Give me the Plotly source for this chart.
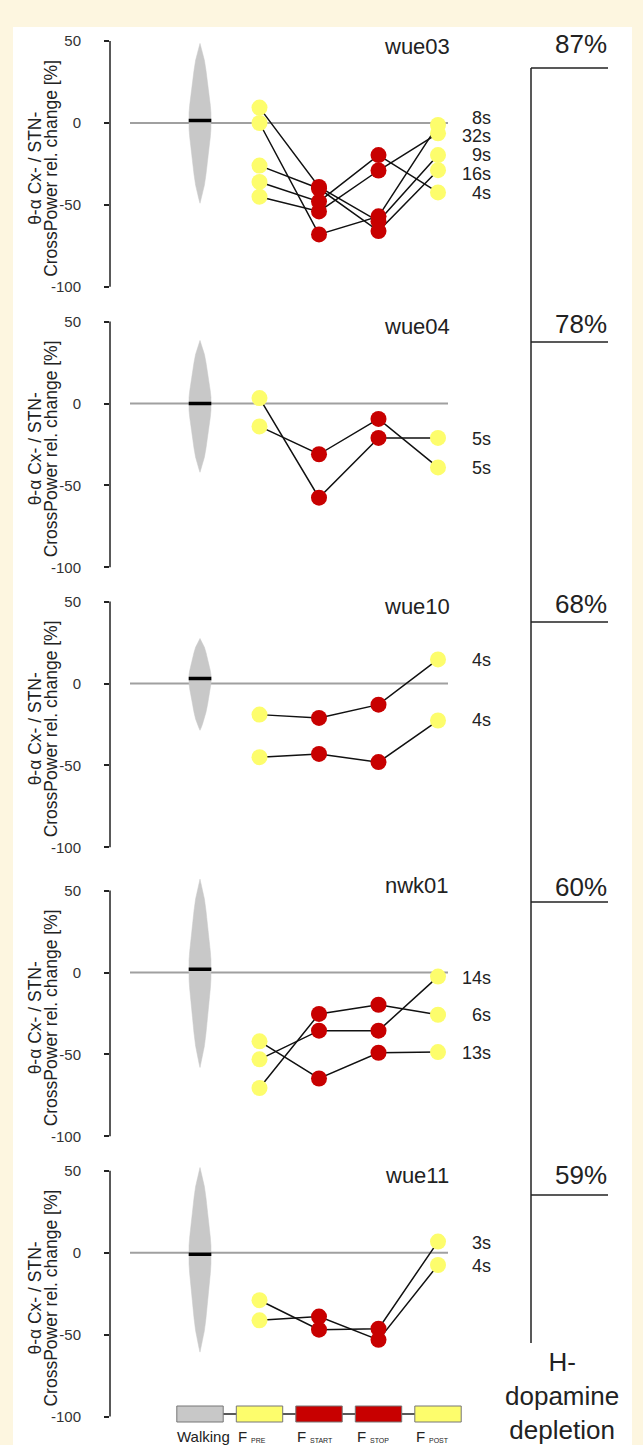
import plotly.graph_objects as go

# ---------------- data ----------------
subjects = ["wue03", "wue04", "wue10", "nwk01", "wue11"]
depletion = ["87%", "78%", "68%", "60%", "59%"]
legend_labels = ["Walking", "F", "F", "F", "F"]
legend_subs = ["", "PRE", "START", "STOP", "POST"]
tick_vals = [50, 0, -50, -100]
tick_text = ["50", "0", "-50", "-100"]

# freezing-episode trials: values at F_PRE, F_START, F_STOP, F_POST
wue03_pre = [9.4, 0.0, -26, -36, -45]
wue03_start = [-39, -68, -40, -48, -54]
wue03_stop = [-60, -57, -66, -19.6, -29]
wue03_post = [-19.6, -1.2, -28.8, -42.4, -6.3]
wue03_labels = ["8s", "32s", "9s", "16s", "4s"]
wue03_label_y = [3, -8, -19.6, -31, -43]

wue04_pre = [3.3, -14]
wue04_start = [-57.5, -31]
wue04_stop = [-21, -9.4]
wue04_post = [-21, -39]
wue04_labels = ["5s", "5s"]
wue04_label_y = [-21.5, -39.5]

wue10_pre = [-19, -45]
wue10_start = [-21, -43]
wue10_stop = [-12.9, -48]
wue10_post = [14.7, -22.6]
wue10_labels = ["4s", "4s"]
wue10_label_y = [14.5, -22.5]

nwk01_pre = [-42, -53, -70.5]
nwk01_start = [-64.7, -35.5, -25.3]
nwk01_stop = [-49, -35.5, -19.7]
nwk01_post = [-48.6, -2.5, -25.8]
nwk01_labels = ["14s", "6s", "13s"]
nwk01_label_y = [-3.5, -26, -49]

wue11_pre = [-29, -41.3]
wue11_start = [-47, -39]
wue11_stop = [-46.4, -53.2]
wue11_post = [6.8, -7.5]
wue11_labels = ["3s", "4s"]
wue11_label_y = [6, -8]

# walking distribution (violin): median, upper tip, lower tip
walk_median = [1.5, 0.0, 3.0, 2.0, -1.0]
walk_top = [48.6, 38.5, 27.5, 57.0, 52.0]
walk_bottom = [-49.0, -42.0, -28.6, -58.0, -60.7]
# violin outline: fraction of tip->median distance, relative half width
violin_frac = [0.0, 0.05, 0.12, 0.22, 0.35, 0.5, 0.65, 0.8, 0.9, 1.0]
violin_relw = [0.0, 0.10, 0.22, 0.39, 0.53, 0.67, 0.80, 0.91, 0.97, 1.0]

panels = [
    (wue03_pre, wue03_start, wue03_stop, wue03_post, wue03_labels, wue03_label_y),
    (wue04_pre, wue04_start, wue04_stop, wue04_post, wue04_labels, wue04_label_y),
    (wue10_pre, wue10_start, wue10_stop, wue10_post, wue10_labels, wue10_label_y),
    (nwk01_pre, nwk01_start, nwk01_stop, nwk01_post, nwk01_labels, nwk01_label_y),
    (wue11_pre, wue11_start, wue11_stop, wue11_post, wue11_labels, wue11_label_y),
]

# ---------------- style / layout ----------------
W, H = 643, 1445
CREAM = "#fdf6e0"
YELLOW = "#fdfd6c"
RED = "#c80000"
GRAY = "#c8c8c8"
FONT = "Liberation Sans, Arial, sans-serif"
point_colors = [YELLOW, RED, RED, YELLOW]
PXU = 59.5            # px per x unit
X0PX = 200            # px of x=0
AX_L, AX_R = 110, 525
xrange_ = [(AX_L - X0PX) / PXU, (AX_R - X0PX) / PXU]
S = 1.638             # px per y unit
zero_px = [123.0, 403.5, 683.5, 972.5, 1252.7]
title_px = [46, 326, 606, 886, 1175]
pct_text_px = [44, 324, 604, 887, 1175]
pct_line_px = [68, 342, 622, 902, 1195]
YR = [-110, 62]


def px2py(p):
    return 1 - p / H


def px2x(p):
    return p / W


def pxdx(p):
    return p / PXU


fig = go.Figure()
shapes = []
annotations = []

# white inner panel
shapes.append(dict(type="rect", xref="paper", yref="paper", x0=px2x(13), x1=px2x(632),
                   y0=0, y1=px2py(27), fillcolor="white", line=dict(width=0), layer="below"))

layout_axes = {}
for i, (pre, st, sp, po, labs, laby) in enumerate(panels):
    yname = "y" if i == 0 else f"y{i+1}"
    ykey = "yaxis" if i == 0 else f"yaxis{i+1}"
    z = zero_px[i]
    top_px = z - YR[1] * S
    bot_px = z - YR[0] * S
    layout_axes[ykey] = dict(
        domain=[px2py(bot_px), px2py(top_px)], range=YR, anchor="x",
        tickvals=tick_vals, ticktext=tick_text, ticks="outside", ticklen=5,
        tickwidth=1.5, tickcolor="#222", showline=False, showgrid=False, zeroline=False,
        tickfont=dict(size=15, color="#333", family=FONT), ticklabelstandoff=20,
    )
    # axis line
    shapes.append(dict(type="line", xref="x domain", yref=yname, x0=0, x1=0, y0=-100, y1=50,
                       line=dict(color="#222", width=1.5)))
    # zero line
    shapes.append(dict(type="line", xref="x", yref=yname, x0=pxdx(130 - X0PX), x1=pxdx(448 - X0PX),
                       y0=0, y1=0, line=dict(color="#a0a0a0", width=2), layer="below"))

    # violin
    maxw = 0.19
    med, tp, bt = walk_median[i], walk_top[i], walk_bottom[i]
    right_x, right_y = [], []
    for f, w in zip(violin_frac, violin_relw):
        right_x.append(maxw * w)
        right_y.append(tp - (tp - med) * f)
    for f, w in zip(reversed(violin_frac), reversed(violin_relw)):
        right_x.append(maxw * w)
        right_y.append(bt + (med - bt) * f)
    vx = right_x + [-v for v in reversed(right_x)]
    vy = right_y + list(reversed(right_y))
    fig.add_trace(go.Scatter(x=vx, y=vy, xaxis="x", yaxis=yname, mode="lines", fill="toself",
                             fillcolor=GRAY, line=dict(color=GRAY, width=0.5), hoverinfo="skip",
                             showlegend=False))
    fig.add_trace(go.Scatter(x=[-maxw, maxw], y=[med, med], xaxis="x", yaxis=yname, mode="lines",
                             line=dict(color="black", width=3.5), showlegend=False))

    # trial lines
    for k in range(len(pre)):
        fig.add_trace(go.Scatter(x=[1, 2, 3, 4], y=[pre[k], st[k], sp[k], po[k]], xaxis="x", yaxis=yname,
                                 mode="lines", line=dict(color="#111", width=1.5), showlegend=False))
    for k in range(len(pre)):
        fig.add_trace(go.Scatter(x=[1, 2, 3, 4], y=[pre[k], st[k], sp[k], po[k]], xaxis="x", yaxis=yname,
                                 mode="markers", marker=dict(color=point_colors, size=16, line=dict(width=0)),
                                 showlegend=False))

    # duration labels
    for lab, ly in zip(labs, laby):
        annotations.append(dict(x=pxdx(493 - X0PX), y=ly, xref="x", yref=yname, text=lab, showarrow=False,
                                xanchor="right", yanchor="middle", font=dict(size=18, color="#222", family=FONT)))
    # subject title
    annotations.append(dict(x=px2x(417), y=px2py(title_px[i]), xref="paper", yref="paper", text=subjects[i],
                            showarrow=False, xanchor="center", yanchor="middle",
                            font=dict(size=22, color="#222", family=FONT)))
    # y title (two lines)
    annotations.append(dict(x=px2x(35), y=-28, xref="paper", yref=yname, text="θ-α Cx- / STN-",
                            textangle=-90, showarrow=False, xanchor="center", yanchor="middle",
                            font=dict(size=17.5, color="#222", family=FONT)))
    annotations.append(dict(x=px2x(51), y=-28, xref="paper", yref=yname, text="CrossPower rel. change [%]",
                            textangle=-90, showarrow=False, xanchor="center", yanchor="middle",
                            font=dict(size=17.5, color="#222", family=FONT)))
    # depletion percent
    annotations.append(dict(x=px2x(581), y=px2py(pct_text_px[i]), xref="paper", yref="paper", text=depletion[i],
                            showarrow=False, xanchor="center", yanchor="middle",
                            font=dict(size=26, color="#222", family=FONT)))
    shapes.append(dict(type="line", xref="paper", yref="paper", x0=px2x(531), x1=px2x(608),
                       y0=px2py(pct_line_px[i]), y1=px2py(pct_line_px[i]), line=dict(color="#222", width=1.5)))

# right vertical line
shapes.append(dict(type="line", xref="paper", yref="paper", x0=px2x(531), x1=px2x(531),
                   y0=px2py(68), y1=px2py(1343), line=dict(color="#222", width=1.5)))
annotations.append(dict(x=px2x(562), y=px2py(1396), xref="paper", yref="paper",
                        text="H-<br>dopamine<br>depletion", showarrow=False, xanchor="center", yanchor="middle",
                        font=dict(size=26, color="#222", family=FONT)))

# legend boxes under last panel
box_colors = [GRAY, YELLOW, RED, RED, YELLOW]
shapes.append(dict(type="line", xref="x", yref="paper", x0=0, x1=4, y0=px2py(1414), y1=px2py(1414),
                   line=dict(color="#222", width=1.5)))
for j in range(5):
    shapes.append(dict(type="rect", xref="x", yref="paper", x0=j - 0.39, x1=j + 0.39,
                       y0=px2py(1422), y1=px2py(1406), fillcolor=box_colors[j],
                       line=dict(color="#777", width=1)))
    if legend_subs[j]:
        annotations.append(dict(x=j - pxdx(11), y=px2py(1436.5), xref="x", yref="paper", text=legend_labels[j],
                                showarrow=False, xanchor="right", yanchor="middle",
                                font=dict(size=15, color="#222", family=FONT)))
        annotations.append(dict(x=j - pxdx(11), y=px2py(1440), xref="x", yref="paper", text=legend_subs[j],
                                showarrow=False, xanchor="left", yanchor="middle",
                                font=dict(size=7, color="#222", family=FONT)))
    else:
        annotations.append(dict(x=j + pxdx(3), y=px2py(1436.5), xref="x", yref="paper", text=legend_labels[j],
                                showarrow=False, xanchor="center", yanchor="middle",
                                font=dict(size=15, color="#222", family=FONT)))

fig.update_layout(
    width=W, height=H, margin=dict(l=0, r=0, t=0, b=0),
    paper_bgcolor=CREAM, plot_bgcolor="rgba(0,0,0,0)",
    xaxis=dict(domain=[px2x(AX_L), px2x(AX_R)], range=xrange_, visible=False, anchor="y"),
    shapes=shapes, annotations=annotations, showlegend=False,
    font=dict(family=FONT),
    **layout_axes,
)

fig.write_html("out.html", config={"displayModeBar": False},
               post_script="document.body.style.margin='0px';document.body.style.background='#fdf6e0';")
